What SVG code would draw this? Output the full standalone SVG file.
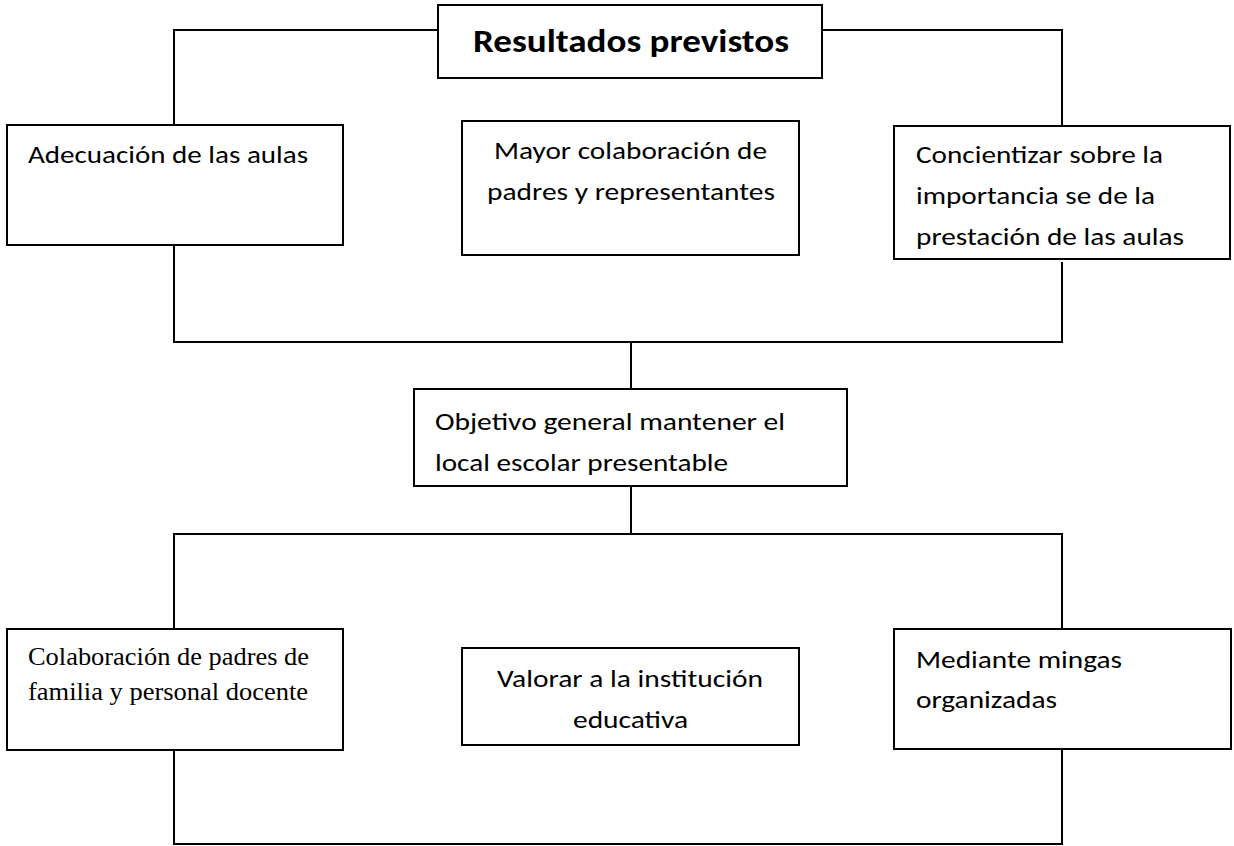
<svg xmlns="http://www.w3.org/2000/svg" width="1234" height="846" viewBox="0 0 1234 846">
<style>
  .box { fill: #fff; stroke: #000; stroke-width: 2; }
  .conn { fill: none; stroke: #000; stroke-width: 2; }
  .t { font-family: Carlito, Lato, "Open Sans", sans-serif; font-size: 25px; fill: #000; }
  .tb { font-family: Carlito, Lato, "Open Sans", sans-serif; font-size: 32px; font-weight: bold; fill: #000; }
  .ts { font-family: "Liberation Serif", "Times New Roman", serif; font-size: 25px; fill: #000; }
</style>
<rect width="1234" height="846" fill="#fff"/>
<g id="connectors">
  <path class="conn" d="M174,126 V30 H438"/>
  <path class="conn" d="M822,30 H1062 V126"/>
  <path class="conn" d="M174,245 V342 H1062 V262"/>
  <path class="conn" d="M631,342 V389"/>
  <path class="conn" d="M631,486 V534"/>
  <path class="conn" d="M174,629 V534 H1062 V629"/>
  <path class="conn" d="M174,750 V844 H1062 V749"/>
</g>
<g id="title">
  <rect class="box" x="438" y="5" width="384" height="73"/>
  <text class="tb" x="473" y="52" textLength="316" lengthAdjust="spacingAndGlyphs">Resultados previstos</text>
</g>
<g id="adecuacion">
  <rect class="box" x="7" y="125" width="336" height="120"/>
  <text class="t" x="28" y="163" textLength="280" lengthAdjust="spacingAndGlyphs">Adecuación de las aulas</text>
</g>
<g id="mayor">
  <rect class="box" x="462" y="121" width="337" height="134"/>
  <text class="t" x="494" y="159" textLength="273" lengthAdjust="spacingAndGlyphs">Mayor colaboración de</text>
  <text class="t" x="487" y="200" textLength="288" lengthAdjust="spacingAndGlyphs">padres y representantes</text>
</g>
<g id="concientizar">
  <rect class="box" x="894" y="126" width="336" height="133"/>
  <text class="t" x="916" y="163" textLength="247" lengthAdjust="spacingAndGlyphs">Concientizar sobre la</text>
  <text class="t" x="916" y="204" textLength="239" lengthAdjust="spacingAndGlyphs">importancia se de la</text>
  <text class="t" x="916" y="245" textLength="268" lengthAdjust="spacingAndGlyphs">prestación de las aulas</text>
</g>
<g id="objetivo">
  <rect class="box" x="414" y="389" width="433" height="97"/>
  <text class="t" x="435" y="430" textLength="350" lengthAdjust="spacingAndGlyphs">Objetivo general mantener el</text>
  <text class="t" x="435" y="471" textLength="293" lengthAdjust="spacingAndGlyphs">local escolar presentable</text>
</g>
<g id="colaboracion">
  <rect class="box" x="7" y="629" width="336" height="121"/>
  <text class="ts" x="28" y="665" textLength="281" lengthAdjust="spacingAndGlyphs">Colaboración de padres de</text>
  <text class="ts" x="28" y="700" textLength="280" lengthAdjust="spacingAndGlyphs">familia y personal docente</text>
</g>
<g id="valorar">
  <rect class="box" x="462" y="648" width="337" height="97"/>
  <text class="t" x="497" y="687" textLength="266" lengthAdjust="spacingAndGlyphs">Valorar a la institución</text>
  <text class="t" x="573" y="728" textLength="115" lengthAdjust="spacingAndGlyphs">educativa</text>
</g>
<g id="mediante">
  <rect class="box" x="894" y="629" width="337" height="120"/>
  <text class="t" x="916" y="668" textLength="206" lengthAdjust="spacingAndGlyphs">Mediante mingas</text>
  <text class="t" x="916" y="708" textLength="141" lengthAdjust="spacingAndGlyphs">organizadas</text>
</g>
</svg>
